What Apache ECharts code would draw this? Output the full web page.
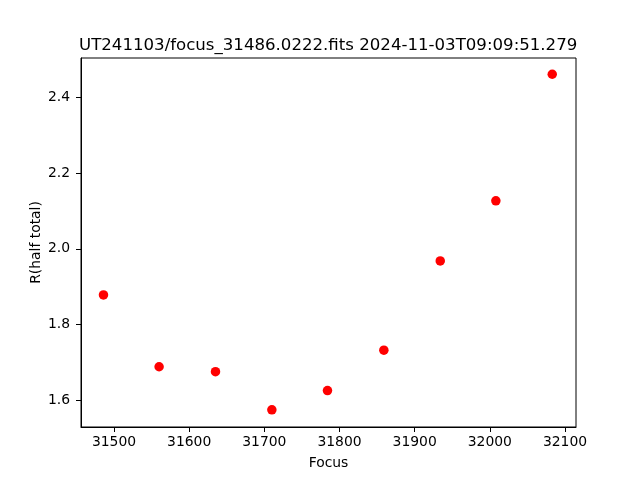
<!DOCTYPE html>
<html>
<head>
<meta charset="utf-8">
<script src="https://cdn.jsdelivr.net/npm/echarts@6/dist/echarts.min.js"></script>
<style>html,body{margin:0;padding:0;background:#fff}#c{width:640px;height:480px}</style>
</head>
<body>
<div id="c"></div>
<script>
const titleText = "UT241103/focus_31486.0222.fits 2024-11-03T09:09:51.279";
const focusValues = [31486, 31560, 31635, 31710, 31784, 31859, 31934, 32008, 32083];
const radiusValues = [1.878, 1.688, 1.675, 1.574, 1.625, 1.732, 1.968, 2.127, 2.462];
const xTicks = [31500, 31600, 31700, 31800, 31900, 32000, 32100];
const yTicks = [1.6, 1.8, 2.0, 2.2, 2.4];

const font = 'DejaVu Sans';
const chart = echarts.init(document.getElementById('c'), null, {renderer: 'canvas'});
chart.setOption({
  animation: false,
  backgroundColor: '#fff',
  title: {
    text: titleText, left: 74, top: 32,
    textStyle: {fontFamily: font, fontSize: 16.6, fontWeight: 'normal', color: '#000'}
  },
  grid: {left: 81, right: 64, top: 58, bottom: 53, show: true, borderColor: '#000', borderWidth: 1, backgroundColor: 'transparent'},
  xAxis: {
    type: 'value', min: 31456.1, max: 32114.6,
    name: 'Focus', nameLocation: 'middle', nameGap: 29, nameMoveOverlap: false,
    nameTextStyle: {fontFamily: font, fontSize: 13.9, color: '#000'},
    axisLine: {show: true, onZero: false, lineStyle: {color: '#000', width: 1}},
    axisTick: {show: true, length: 5, lineStyle: {color: '#000'}, customValues: xTicks},
    axisLabel: {fontFamily: font, fontSize: 13.9, color: '#000', margin: 8, customValues: xTicks,
      formatter: v => String(Math.round(v))},
    splitLine: {show: false}
  },
  yAxis: {
    type: 'value', min: 1.5286, max: 2.505,
    name: 'R(half total)', nameLocation: 'middle', nameGap: 38, nameRotate: 90, nameMoveOverlap: false,
    nameTextStyle: {fontFamily: font, fontSize: 13.9, color: '#000'},
    axisLine: {show: true, onZero: false, lineStyle: {color: '#000', width: 1}},
    axisTick: {show: true, length: 5, lineStyle: {color: '#000'}, customValues: yTicks},
    axisLabel: {fontFamily: font, fontSize: 13.9, color: '#000', margin: 11, customValues: yTicks,
      formatter: v => Number(v).toFixed(1)},
    splitLine: {show: false}
  },
  series: [{
    type: 'scatter',
    data: focusValues.map((f, i) => [f, radiusValues[i]]),
    symbol: 'circle', symbolSize: 9.5,
    itemStyle: {color: '#ff0000', opacity: 1}
  }]
});
</script>
</body>
</html>
